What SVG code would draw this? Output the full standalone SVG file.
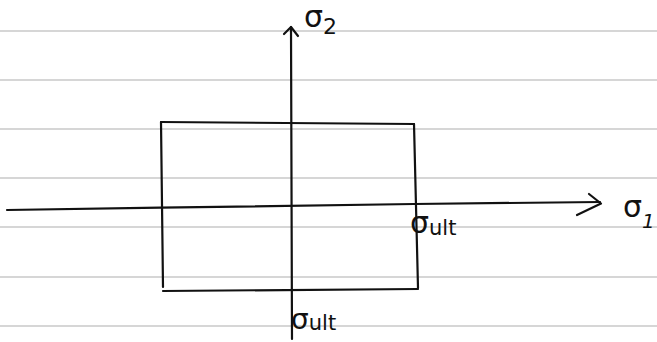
<svg xmlns="http://www.w3.org/2000/svg" width="657" height="342" viewBox="0 0 657 342">
<style>
.rule{stroke:#c8c8c8;stroke-width:1.6;fill:none}
.ink{stroke:#111;stroke-width:2.2;fill:none;stroke-linecap:round;stroke-linejoin:round}
.lbl{font-family:"DejaVu Sans",sans-serif;fill:#111}
</style>
<rect width="657" height="342" fill="#fff"/>
<g id="paper-rules">
<line class="rule" x1="0" y1="31" x2="657" y2="31"/>
<line class="rule" x1="0" y1="80" x2="657" y2="80"/>
<line class="rule" x1="0" y1="129" x2="657" y2="129"/>
<line class="rule" x1="0" y1="178" x2="657" y2="178"/>
<line class="rule" x1="0" y1="227" x2="657" y2="227"/>
<line class="rule" x1="0" y1="277" x2="657" y2="277"/>
<line class="rule" x1="0" y1="326" x2="657" y2="326"/>
</g>
<g id="connectors">
<path id="sigma1-axis" class="ink" d="M7 210 L160 207.7 L414 204 L600 202"/>
<path class="ink" d="M589 194 L601 203.5 L577 215"/>
<path id="sigma2-axis" class="ink" d="M292 339 L291 27"/>
<path class="ink" d="M284 34 L291 27 L298 36"/>
</g>
<g id="failure-envelope">
<path class="ink" d="M161 122 L414 124"/>
<path class="ink" d="M161 122 L163 287"/>
<path class="ink" d="M414 124 L418 288"/>
<path class="ink" d="M163 291 L418 289"/>
</g>
<g id="label-sigma2">
<text class="lbl" x="304" y="27" font-size="30">σ<tspan font-size="22" dy="7">2</tspan></text>
</g>
<g id="label-sigma1">
<text class="lbl" x="623" y="217" font-size="30">σ<tspan font-size="20" dy="11" font-style="italic">1</tspan></text>
</g>
<g id="label-sult-right">
<text class="lbl" x="410" y="233" font-size="30">σ<tspan font-size="21" dy="2">ult</tspan></text>
</g>
<g id="label-sult-bottom">
<text class="lbl" x="291" y="329" font-size="28">σ<tspan font-size="21" dy="1">ult</tspan></text>
</g>
</svg>
